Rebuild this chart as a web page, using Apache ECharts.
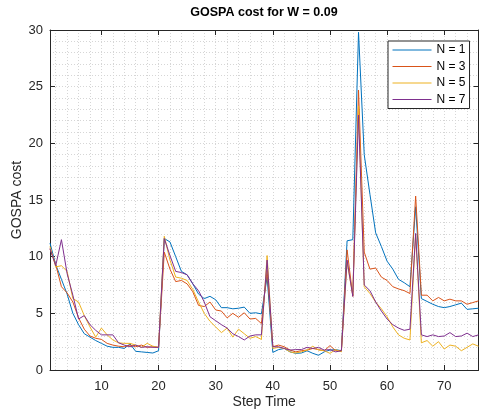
<!DOCTYPE html>
<html><head><meta charset="utf-8">
<script src="https://cdn.jsdelivr.net/npm/echarts@6/dist/echarts.min.js"></script>
<style>html,body{margin:0;padding:0;background:#fff}#c{width:479px;height:412px}</style>
</head><body><div id="c"></div>
<script>
const steps = [1,2,3,4,5,6,7,8,9,10,11,12,13,14,15,16,17,18,19,20,21,22,23,24,25,26,27,28,29,30,31,32,33,34,35,36,37,38,39,40,41,42,43,44,45,46,47,48,49,50,51,52,53,54,55,56,57,58,59,60,61,62,63,64,65,66,67,68,69,70,71,72,73,74,75,76];
const seriesNames = ['N = 1','N = 3','N = 5','N = 7'];
const n1 = [11.2,9.3,8.0,6.7,5.0,4.0,3.2,2.9,2.6,2.35,2.1,2.0,2.0,1.9,2.3,1.65,1.6,1.55,1.5,1.7,11.6,11.3,10.0,8.7,8.4,7.6,6.7,6.3,6.5,6.2,5.5,5.5,5.4,5.45,5.55,5.0,5.05,4.95,8.2,1.55,1.8,1.9,1.6,1.47,1.5,1.7,1.47,1.3,1.6,1.76,1.8,1.7,11.4,11.5,29.8,19.0,15.5,12.1,10.9,9.6,8.9,8.0,7.7,7.35,14.4,6.3,6.05,5.8,5.6,5.5,5.6,5.75,5.9,5.35,5.4,5.45];
const n3 = [10.7,9.3,7.35,6.8,6.0,4.6,3.6,3.0,2.8,2.7,2.35,2.2,2.1,2.05,2.2,2.05,2.2,2.0,2.05,2.0,10.4,8.9,7.8,7.9,7.6,6.9,5.7,5.6,6.0,5.3,5.2,4.6,5.0,4.65,5.05,4.5,4.55,4.1,8.8,2.05,2.2,2.05,1.76,1.6,1.7,1.76,1.9,1.8,1.7,2.15,1.7,1.7,10.6,6.5,24.7,10.4,8.9,9.0,8.2,7.9,7.35,7.15,7.0,6.75,15.35,6.6,6.6,6.1,6.4,6.1,6.25,6.1,6.1,5.8,5.95,6.1];
const n5 = [10.9,9.1,9.2,8.7,6.3,6.0,4.8,3.8,2.9,3.7,3.1,2.65,2.4,2.35,2.35,2.2,2.0,2.35,2.1,2.0,11.8,9.7,8.2,8.1,7.9,7.1,6.0,5.0,4.3,3.8,3.3,3.7,2.9,3.6,3.2,2.8,2.95,2.7,10.1,1.9,2.0,1.9,1.6,1.5,1.6,1.76,2.1,1.76,1.7,1.47,1.8,1.6,9.5,6.6,23.3,7.35,6.75,6.0,5.4,4.7,3.8,3.1,2.8,2.65,12.0,2.4,2.6,2.1,2.5,1.85,2.2,2.1,1.7,2.0,2.3,2.1];
const n7 = [10.7,9.2,11.5,8.5,6.6,4.5,4.8,4.0,3.5,3.1,3.1,3.1,2.4,2.2,2.05,2.2,2.0,2.05,2.0,2.0,11.6,10.1,8.7,8.6,8.4,7.6,7.0,6.0,4.7,4.35,4.0,3.7,3.2,2.95,2.65,3.0,3.1,3.1,9.7,2.05,2.05,1.9,1.76,1.8,1.8,2.0,1.9,2.0,1.76,1.8,1.6,1.7,9.7,6.5,22.5,7.5,7.0,6.0,5.2,4.5,4.0,3.7,3.5,3.6,12.05,3.1,2.95,3.1,2.95,3.0,3.3,2.95,3.0,3.25,2.95,3.1];
const yTicks = [0,5,10,15,20,25,30];
const xTickLabels = [10,20,30,40,50,60,70];
const colors = ['#0072BD','#D95319','#EDB120','#7E2F8E'];

const FONT = 'Liberation Sans, Arial, Helvetica, sans-serif';
const TXT = '#262626';
const GRIDC = '#d6d6d6';
const allSeries = [n1,n3,n5,n7];

const chart = echarts.init(document.getElementById('c'), null, {renderer:'canvas'});
const axisBase = {
  type:'value', min:1, max:76,
  axisLine:{show:true, onZero:false, lineStyle:{color:TXT, width:1}},
  axisTick:{show:true, inside:true, length:5, lineStyle:{color:TXT}},
  splitLine:{show:false}
};
chart.setOption({
  animation:false,
  backgroundColor:'#fff',
  title:{text:'GOSPA cost for W = 0.09', left:264, top:6, textAlign:'center', padding:0,
    textStyle:{fontSize:12.5, fontWeight:'bold', color:'#000', fontFamily:FONT}},
  legend:{orient:'vertical', left:388, top:41, padding:[3,4,3,4], itemWidth:39, itemHeight:12, itemGap:4.5,
    backgroundColor:'#fff', borderColor:TXT, borderWidth:1, data:seriesNames,
    itemStyle:{opacity:0}, lineStyle:{width:1},
    textStyle:{fontSize:12, color:'#000', fontFamily:FONT}},
  grid:{left:50, right:0.5, top:30, bottom:42, containLabel:false, outerBoundsMode:'none'},
  xAxis:[
    Object.assign({}, axisBase, {position:'bottom', splitNumber:7,
      axisLabel:{show:true, margin:10, fontSize:13, color:TXT, fontFamily:FONT,
        formatter:v => xTickLabels.indexOf(v) >= 0 ? String(v) : ''},
      name:'Step Time', nameLocation:'middle', nameGap:25, nameMoveOverlap:false,
      nameTextStyle:{fontSize:14, color:TXT, fontFamily:FONT}}),
    Object.assign({}, axisBase, {position:'top', splitNumber:7, axisLabel:{show:false}}),
    {type:'value', min:1, max:76, interval:1, axisLine:{show:false}, axisTick:{show:false}, axisLabel:{show:false},
      splitLine:{show:true, lineStyle:{color:['rgba(0,0,0,0)', GRIDC], width:1, type:[1,2]}}}
  ],
  yAxis:[
    {type:'value', min:0, max:30, interval:5, position:'left',
      axisLine:{show:true, lineStyle:{color:TXT, width:1}},
      axisTick:{show:true, inside:true, length:5, lineStyle:{color:TXT}},
      axisLabel:{show:true, margin:7, fontSize:13, color:TXT, fontFamily:FONT,
        formatter:v => yTicks.indexOf(v) >= 0 ? String(v) : ''},
      splitLine:{show:true, lineStyle:{color:GRIDC, width:1, type:[1,2]}},
      minorTick:{show:false, splitNumber:5},
      minorSplitLine:{show:true, lineStyle:{color:GRIDC, width:1, type:[1,2]}},
      name:'GOSPA cost', nameLocation:'middle', nameGap:26, nameMoveOverlap:false,
      nameTextStyle:{fontSize:14, color:TXT, fontFamily:FONT}},
    {type:'value', min:0, max:30, interval:5, position:'right',
      axisLine:{show:true, lineStyle:{color:TXT, width:1}},
      axisTick:{show:true, inside:true, length:5, lineStyle:{color:TXT}},
      axisLabel:{show:false}, splitLine:{show:false}}
  ],
  series: allSeries.map((vals, k) => ({
    name: seriesNames[k], type:'line', xAxisIndex:0, yAxisIndex:0,
    data: steps.map((s, i) => [s, vals[i]]),
    symbol:'none', showSymbol:false,
    lineStyle:{width:1, color:colors[k]}, itemStyle:{color:colors[k]},
    z: 2 + k
  }))
});
</script>
</body></html>
